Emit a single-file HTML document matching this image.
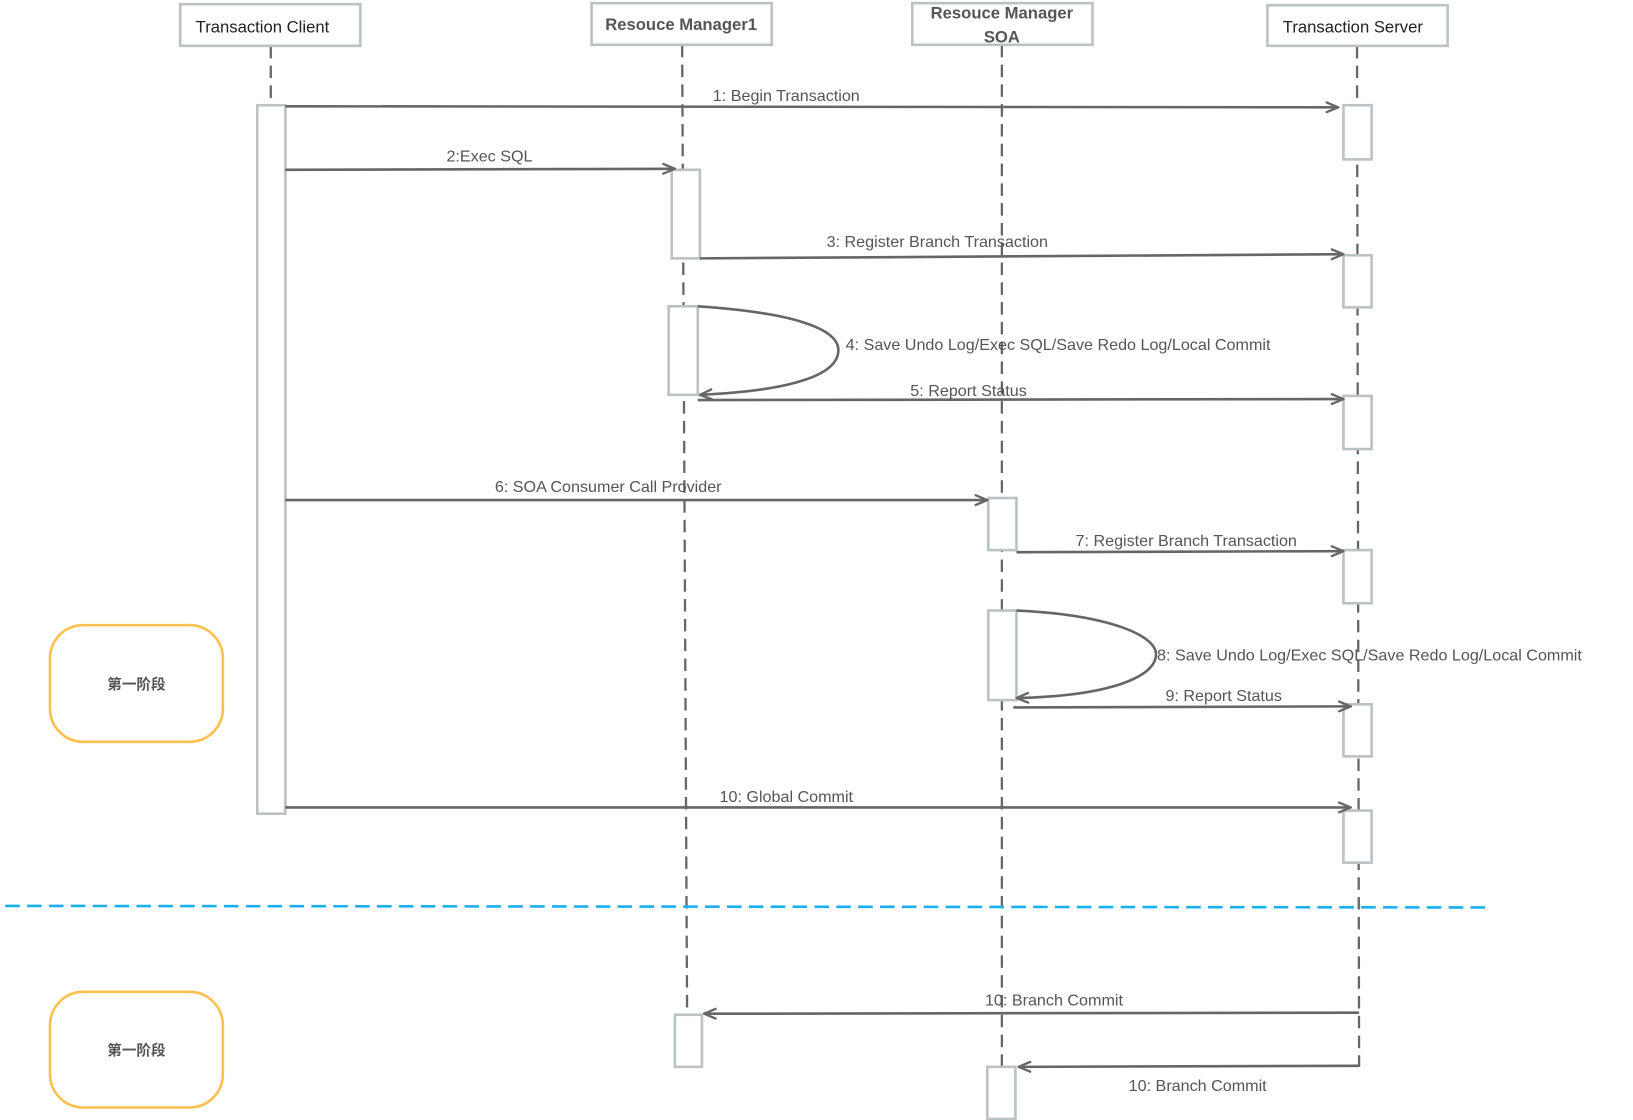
<!DOCTYPE html>
<html><head><meta charset="utf-8">
<style>
html,body{margin:0;padding:0;background:#fff;width:1633px;height:1120px;overflow:hidden}
svg{display:block}
text{font-family:"Liberation Sans","Noto Sans CJK SC",sans-serif;fill:#555}
</style></head>
<body>
<svg width="1633" height="1120" viewBox="0 0 1568 1075" preserveAspectRatio="none" xmlns="http://www.w3.org/2000/svg">
<defs>
<marker id="a" markerWidth="14" markerHeight="12" refX="13" refY="6" orient="auto" markerUnits="userSpaceOnUse">
<path d="M1,1 L13,6 L1,11" fill="none" stroke="#666" stroke-width="2.2"/>
</marker>
</defs>
<g stroke="#666" stroke-width="2.2" stroke-dasharray="12,7" fill="none">
<line x1="260" y1="44" x2="260" y2="101"/>
<line x1="655" y1="43" x2="660" y2="1024"/>
<line x1="962" y1="43" x2="962" y2="1074"/>
<line x1="1303" y1="44" x2="1305" y2="1024"/>
</g>
<g fill="#fff" stroke="#bcc2c4" stroke-width="2.5">
<rect x="173" y="4" width="173" height="40"/>
<rect x="568" y="3" width="173" height="40"/>
<rect x="876" y="3" width="173" height="40"/>
<rect x="1217" y="5" width="173" height="39"/>
<rect x="247" y="101" width="27" height="680"/>
<rect x="1290" y="101" width="27" height="52"/>
<rect x="1290" y="245" width="27" height="50"/>
<rect x="1290" y="380" width="27" height="51"/>
<rect x="1290" y="528" width="27" height="51"/>
<rect x="1290" y="676" width="27" height="50"/>
<rect x="1290" y="778" width="27" height="50"/>
<rect x="645" y="163" width="27" height="85"/>
<rect x="642" y="294" width="28" height="85"/>
<rect x="648" y="974" width="26" height="50"/>
<rect x="949" y="478" width="27" height="50"/>
<rect x="949" y="586" width="27" height="86"/>
<rect x="948" y="1024" width="27" height="50"/>
</g>
<g font-size="16" text-anchor="middle">
<text x="252" y="31" style="fill:#222">Transaction Client</text>
<text x="654" y="29" font-weight="bold">Resouce Manager1</text>
<text x="962" y="18" font-weight="bold">Resouce Manager</text>
<text x="962" y="41" font-weight="bold">SOA</text>
<text x="1299" y="31" style="fill:#222">Transaction Server</text>
</g>
<g stroke="#666" stroke-width="2.5" fill="none" marker-end="url(#a)">
<line x1="274" y1="102" x2="1285" y2="103"/>
<line x1="274" y1="163" x2="648" y2="162"/>
<line x1="672" y1="248" x2="1290" y2="244"/>
<path d="M670,294 C760,300 805,315 805,336 C805,360 760,375 672,379"/>
<line x1="670" y1="384" x2="1290" y2="383"/>
<line x1="274" y1="480" x2="948" y2="480"/>
<line x1="976" y1="530" x2="1290" y2="529"/>
<path d="M976,586 C1065,590 1110,610 1110,628 C1110,650 1065,668 976,670"/>
<line x1="973" y1="679" x2="1297" y2="678"/>
<line x1="274" y1="775" x2="1297" y2="775"/>
<line x1="1305" y1="972" x2="676" y2="973"/>
<line x1="1305" y1="1023" x2="978" y2="1024"/>
</g>
<g font-size="15.5">
<text x="755" y="97" text-anchor="middle">1:  Begin Transaction</text>
<text x="470" y="155" text-anchor="middle">2:Exec SQL</text>
<text x="900" y="237" text-anchor="middle">3: Register  Branch Transaction</text>
<text x="812" y="336">4: Save Undo Log/Exec SQL/Save Redo Log/Local Commit</text>
<text x="930" y="380" text-anchor="middle">5: Report Status</text>
<text x="584" y="472" text-anchor="middle">6: SOA Consumer Call Provider</text>
<text x="1139" y="524" text-anchor="middle">7: Register  Branch Transaction</text>
<text x="1111" y="634">8: Save Undo Log/Exec SQL/Save Redo Log/Local Commit</text>
<text x="1175" y="673" text-anchor="middle">9: Report Status</text>
<text x="755" y="770" text-anchor="middle">10: Global   Commit</text>
<text x="1012" y="965" text-anchor="middle">10: Branch Commit</text>
<text x="1150" y="1047" text-anchor="middle">10: Branch Commit</text>
</g>
<line x1="5" y1="869.5" x2="1428" y2="871" stroke="#1aaff0" stroke-width="2.5" stroke-dasharray="14,7"/>
<g fill="#fff" stroke="#fbc04e" stroke-width="2.5">
<rect x="48" y="600" width="166" height="112" rx="32"/>
<rect x="48" y="952" width="166" height="111" rx="32"/>
</g>
<g font-size="14" text-anchor="middle" font-weight="bold">
<text x="131" y="662">第一阶段</text>
<text x="131" y="1013">第一阶段</text>
</g>
</svg>
</body></html>
